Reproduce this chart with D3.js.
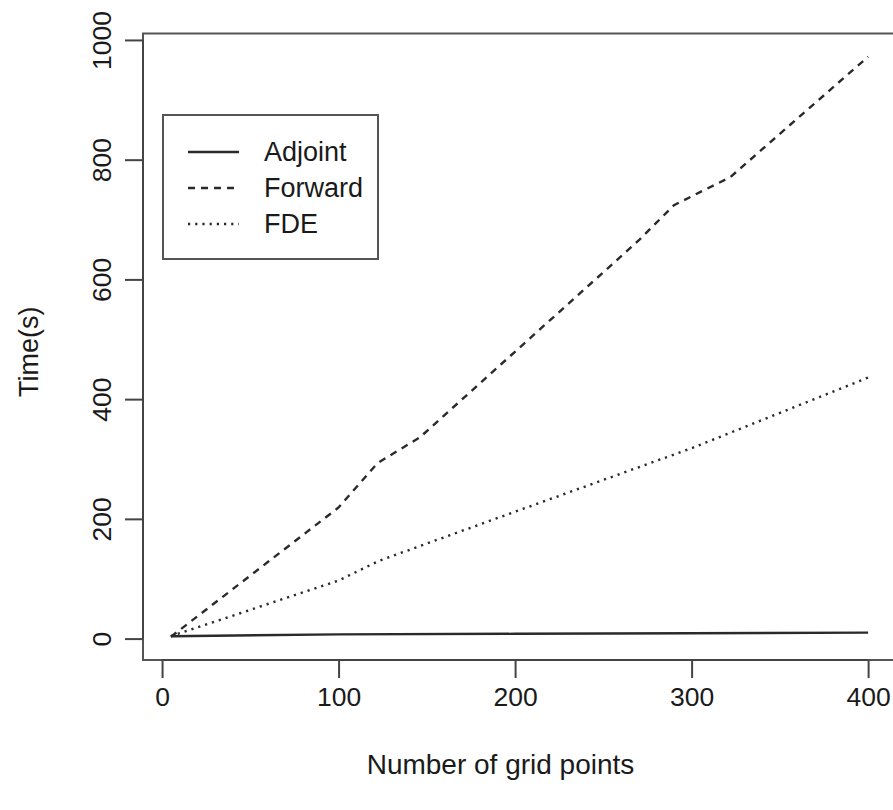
<!DOCTYPE html>
<html>
<head>
<meta charset="utf-8">
<script src="https://cdn.jsdelivr.net/npm/d3@7"></script>
<style>
  body { margin: 0; background: #fff; }
  text { font-family: "Liberation Sans", Arial, sans-serif; fill: #1a1a1a; }
</style>
</head>
<body>
<div class="chart"></div>
<script>
// values
const adjointX = [5, 100, 200, 300, 400];
const adjointY = [4, 7, 8, 9, 10];
const forwardX = [5, 100, 122, 146, 270, 290, 322, 400];
const forwardY = [3, 219, 293, 336, 665, 724, 771, 972];
const fdeX = [5, 100, 123, 200, 300, 400];
const fdeY = [4, 97, 130, 212, 318, 436];
const seriesNames = ["Adjoint", "Forward", "FDE"];
const xTicks = [0, 100, 200, 300, 400];
const yTicks = [0, 200, 400, 600, 800, 1000];

const width = 893, height = 810;
const plot = {left: 143, right: 896, top: 33.5, bottom: 660};

const series = [
  {name: seriesNames[0], pts: adjointX.map((x, i) => [x, adjointY[i]]), dash: null},
  {name: seriesNames[1], pts: forwardX.map((x, i) => [x, forwardY[i]]), dash: "7,6"},
  {name: seriesNames[2], pts: fdeX.map((x, i) => [x, fdeY[i]]), dash: "2.2,5"}
];

// R style 4% padding of the data range
const allPts = series.flatMap(s => s.pts);
const xExt = d3.extent(allPts, d => d[0]), yExt = d3.extent(allPts, d => d[1]);
const xPad = (xExt[1] - xExt[0]) * 0.04, yPad = (yExt[1] - yExt[0]) * 0.04;

const xScale = d3.scaleLinear()
                 .domain([xExt[0] - xPad, xExt[1] + xPad])
                 .range([plot.left, plot.right]);
const yScale = d3.scaleLinear()
                 .domain([yExt[0] - yPad, yExt[1] + yPad])
                 .range([plot.bottom, plot.top]);

const svg = d3.select(".chart").append("svg")
              .attr("width", width)
              .attr("height", height);

const line = d3.line().x(d => xScale(d[0])).y(d => yScale(d[1]));

svg.selectAll("path.series")
   .data(series)
   .enter()
   .append("path")
   .attr("class", "series")
   .attr("d", d => line(d.pts))
   .attr("fill", "none")
   .attr("stroke", "#2a2a2a")
   .attr("stroke-width", 2.4)
   .attr("stroke-dasharray", d => d.dash);

// box
svg.append("rect")
   .attr("x", plot.left).attr("y", plot.top)
   .attr("width", plot.right - plot.left).attr("height", plot.bottom - plot.top)
   .attr("fill", "none").attr("stroke", "#555").attr("stroke-width", 2);

// axes
const xAxis = d3.axisBottom(xScale).tickValues(xTicks).tickSize(18).tickPadding(9);
const gx = svg.append("g")
   .attr("transform", `translate(0, ${plot.bottom})`)
   .call(xAxis);
gx.select(".domain")
  .attr("d", `M${xScale(xTicks[0])},0H${xScale(xTicks[xTicks.length - 1])}`);

const yAxis = d3.axisLeft(yScale).tickValues(yTicks).tickSize(18).tickFormat(d3.format("d"));
const gy = svg.append("g")
   .attr("transform", `translate(${plot.left}, 0)`)
   .call(yAxis);
gy.select(".domain")
  .attr("d", `M0,${yScale(yTicks[0])}V${yScale(yTicks[yTicks.length - 1])}`);

svg.selectAll(".domain, .tick line").attr("stroke", "#444").attr("stroke-width", 2);
svg.selectAll(".tick text")
   .attr("font-size", 26.5)
   .attr("font-family", "Liberation Sans, Arial, sans-serif")
   .attr("fill", "#1a1a1a");

gy.selectAll(".tick text")
  .attr("x", null).attr("dy", null)
  .attr("text-anchor", "middle")
  .attr("transform", "translate(-32,0) rotate(-90)");

svg.append("text")
   .attr("x", (plot.left + plot.right) / 2 - 19)
   .attr("y", 774)
   .attr("text-anchor", "middle")
   .attr("font-size", 28)
   .text("Number of grid points");

svg.append("text")
   .attr("transform", `translate(38, ${(plot.top + plot.bottom) / 2 + 5}) rotate(-90)`)
   .attr("text-anchor", "middle")
   .attr("font-size", 27)
   .text("Time(s)");

// legend
const legend = svg.append("g").attr("transform", "translate(163, 115)");
legend.append("rect")
      .attr("width", 215).attr("height", 144)
      .attr("fill", "#fff").attr("stroke", "#555").attr("stroke-width", 2);

const rowY = i => 37 + i * 36;
legend.selectAll("line")
      .data(series)
      .enter()
      .append("line")
      .attr("x1", 25).attr("x2", 76)
      .attr("y1", (d, i) => rowY(i)).attr("y2", (d, i) => rowY(i))
      .attr("stroke", "#2a2a2a").attr("stroke-width", 2.4)
      .attr("stroke-dasharray", d => d.dash);

legend.selectAll("text")
      .data(series)
      .enter()
      .append("text")
      .attr("x", 101)
      .attr("y", (d, i) => rowY(i))
      .attr("dy", "0.35em")
      .attr("font-size", 27)
      .text(d => d.name);
</script>
</body>
</html>
